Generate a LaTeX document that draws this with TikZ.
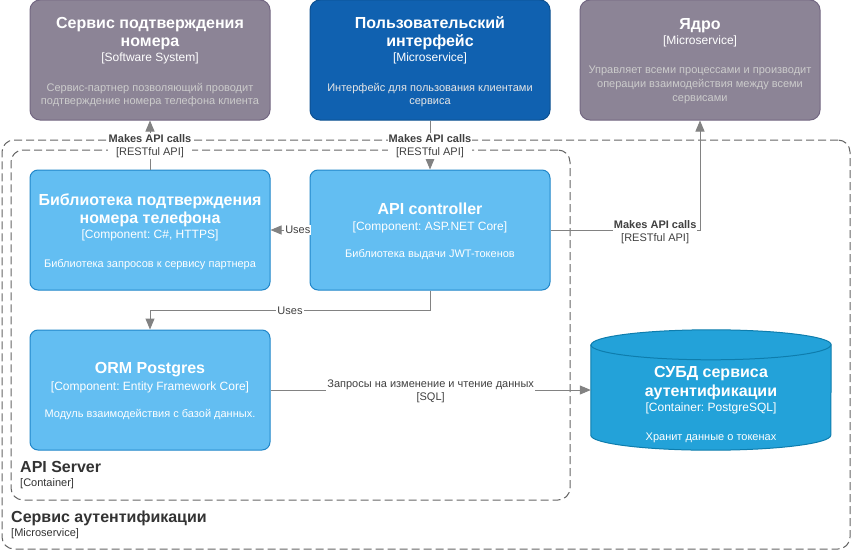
\documentclass[tikz,border=0pt]{standalone}
\usepackage{fontspec}
\setmainfont{Liberation Sans}
\usetikzlibrary{arrows.meta,calc}
\frenchspacing
\definecolor{extfill}{HTML}{8C8496}
\definecolor{extline}{HTML}{736782}
\definecolor{uifill}{HTML}{1061B0}
\definecolor{uiline}{HTML}{0D5091}
\definecolor{compfill}{HTML}{63BEF2}
\definecolor{compline}{HTML}{2086C9}
\definecolor{dbfill}{HTML}{23A2D9}
\definecolor{dbline}{HTML}{0E7DAD}
\definecolor{conn}{HTML}{828282}
\definecolor{lbl}{HTML}{404040}
\definecolor{bnd}{HTML}{666666}
\definecolor{bndtext}{HTML}{333333}
\definecolor{descgray}{HTML}{CCCCCC}
\definecolor{descui}{HTML}{E6E6E6}
\newcommand\ftitle{\fontsize{16}{19}\selectfont\bfseries}
\newcommand\ftype{\fontsize{12}{14}\selectfont}
\newcommand\fdesc{\fontsize{11}{13}\selectfont}
\newcommand\flab{\fontsize{11}{13}\selectfont}
\newcommand\tline[6]{\node[anchor=base, inner sep=0pt, font=#4, text=#5] (#1) at (#2,#3) {#6};}
\begin{document}
\begin{tikzpicture}[x=1pt,y=-1pt,
  bndbox/.style={draw=bnd, dash pattern=on 8pt off 4pt, rounded corners=12pt, line width=1pt, inner sep=0pt},
  sysbox/.style={rectangle, minimum width=240pt, minimum height=120pt, rounded corners=10pt, inner sep=0pt, line width=1pt},
  compbox/.style={sysbox, rounded corners=8pt, fill=compfill, draw=compline},
  arr/.style={draw=conn, line width=1pt, -{Triangle[length=11pt,width=9pt]}},
  elabel/.style={fill=white, inner sep=1pt, font=\flab, text=lbl, align=center}
]
\useasboundingbox (0,0) rectangle (851,551);
\fill[white] (0,0) rectangle (851,551);
% boundaries
\node[bndbox, minimum width=848pt, minimum height=409pt] (outer) at (426,344.5) {};
\node[bndbox, minimum width=559pt, minimum height=350pt] (inner) at (290.5,325) {};
\node[anchor=base west, inner sep=0pt, font=\ftitle, text=bndtext] (innerT) at (20,472.7) {API Server};
\node[anchor=base west, inner sep=0pt, font=\fdesc, text=bndtext] (innerS) at (20,486.7) {[Container]};
\node[anchor=base west, inner sep=0pt, font=\ftitle, text=bndtext] (outerT) at (11,522.3) {Сервис аутентификации};
\node[anchor=base west, inner sep=0pt, font=\fdesc, text=bndtext] (outerS) at (11,536.7) {[Microservice]};
% external systems
\node[sysbox, fill=extfill, draw=extline] (b1) at (150,60) {};
\tline{b1a}{150}{28.3}{\ftitle}{white}{Сервис подтверждения}
\tline{b1b}{150}{46.7}{\ftitle}{white}{номера}
\tline{b1c}{150}{61.7}{\ftype}{white}{[Software System]}
\tline{b1d}{150}{91.7}{\fdesc}{descgray}{Сервис-партнер позволяющий проводит}
\tline{b1e}{150}{104.7}{\fdesc}{descgray}{подтверждение номера телефона клиента}

\node[sysbox, fill=uifill, draw=uiline] (b2) at (430,60) {};
\tline{b2a}{430}{28.3}{\ftitle}{white}{Пользовательский}
\tline{b2b}{430}{46.7}{\ftitle}{white}{интерфейс}
\tline{b2c}{430}{61.7}{\ftype}{white}{[Microservice]}
\tline{b2d}{430}{91.7}{\fdesc}{descui}{Интерфейс для пользования клиентами}
\tline{b2e}{430}{104.7}{\fdesc}{descui}{сервиса}

\node[sysbox, fill=extfill, draw=extline] (b3) at (700,60) {};
\tline{b3a}{700}{30}{\ftitle}{white}{Ядро}
\tline{b3b}{700}{44.5}{\ftype}{white}{[Microservice]}
\tline{b3c}{700}{74}{\fdesc}{descgray}{Управляет всеми процессами и производит}
\tline{b3d}{700}{87.8}{\fdesc}{descgray}{операции взаимодействия между всеми}
\tline{b3e}{700}{101.6}{\fdesc}{descgray}{сервисами}
% components
\node[compbox] (lib) at (150,230) {};
\tline{liba}{150}{205}{\ftitle}{white}{Библиотека подтверждения}
\tline{libb}{150}{223.3}{\ftitle}{white}{номера телефона}
\tline{libc}{150}{238.3}{\ftype}{white}{[Component: C\#, HTTPS]}
\tline{libd}{150}{267.3}{\fdesc}{white}{Библиотека запросов к сервису партнера}

\node[compbox] (api) at (430,230) {};
\tline{apia}{430}{214}{\ftitle}{white}{API controller}
\tline{apib}{430}{230}{\ftype}{white}{[Component: ASP.NET Core]}
\tline{apic}{430}{257.3}{\fdesc}{white}{Библиотека выдачи JWT-токенов}

\node[compbox] (orm) at (150,390) {};
\tline{orma}{150}{373.3}{\ftitle}{white}{ORM Postgres}
\tline{ormb}{150}{390}{\ftype}{white}{[Component: Entity Framework Core]}
\tline{ormc}{150}{417.3}{\fdesc}{white}{Модуль взаимодействия с базой данных.}
% database
\node[rectangle, minimum width=240pt, minimum height=120pt, inner sep=0pt] (db) at (711,390) {};
\draw[fill=dbfill, draw=dbline, line width=1pt]
  ($(db.north west)+(0,15)$) -- ($(db.south west)+(0,-15)$)
  arc[start angle=180, end angle=360, x radius=120pt, y radius=15pt]
  -- ($(db.north east)+(0,15)$)
  arc[start angle=0, end angle=180, x radius=120pt, y radius=15pt] -- cycle;
\draw[draw=dbline, line width=1pt] ($(db.north west)+(0,15)$)
  arc[start angle=180, end angle=360, x radius=120pt, y radius=15pt];
\tline{dba}{711}{377.3}{\ftitle}{white}{СУБД сервиса}
\tline{dbb}{711}{396}{\ftitle}{white}{аутентификации}
\tline{dbc}{711}{411.7}{\ftype}{white}{[Container: PostgreSQL]}
\tline{dbd}{711}{440}{\fdesc}{white}{Хранит данные о токенах}
% connectors
\draw[arr] (lib) -- (b1) node[elabel, pos=0.5, yshift=-1pt] {\textbf{Makes API calls}\\{[RESTful API]}};
\draw[arr] (b2) -- (api) node[elabel, pos=0.5, yshift=-1pt] {\textbf{Makes API calls}\\{[RESTful API]}};
\draw[arr] (api.east) -| (b3) node[elabel, pos=0.35, yshift=-2pt] {\textbf{Makes API calls}\\{[RESTful API]}};
\draw[arr] (api.west) -- (lib.east) node[elabel, pos=0.3] {Uses};
\draw[arr] (api.south) -- ++(0,20) coordinate (apiturn) -| (orm.north) node[elabel, pos=0.25] {Uses};
\draw[arr] (orm.east) -- (db.west) node[elabel, pos=0.5, yshift=-1.5pt] {Запросы на изменение и чтение данных\\{[SQL]}};
\end{tikzpicture}
\end{document}
